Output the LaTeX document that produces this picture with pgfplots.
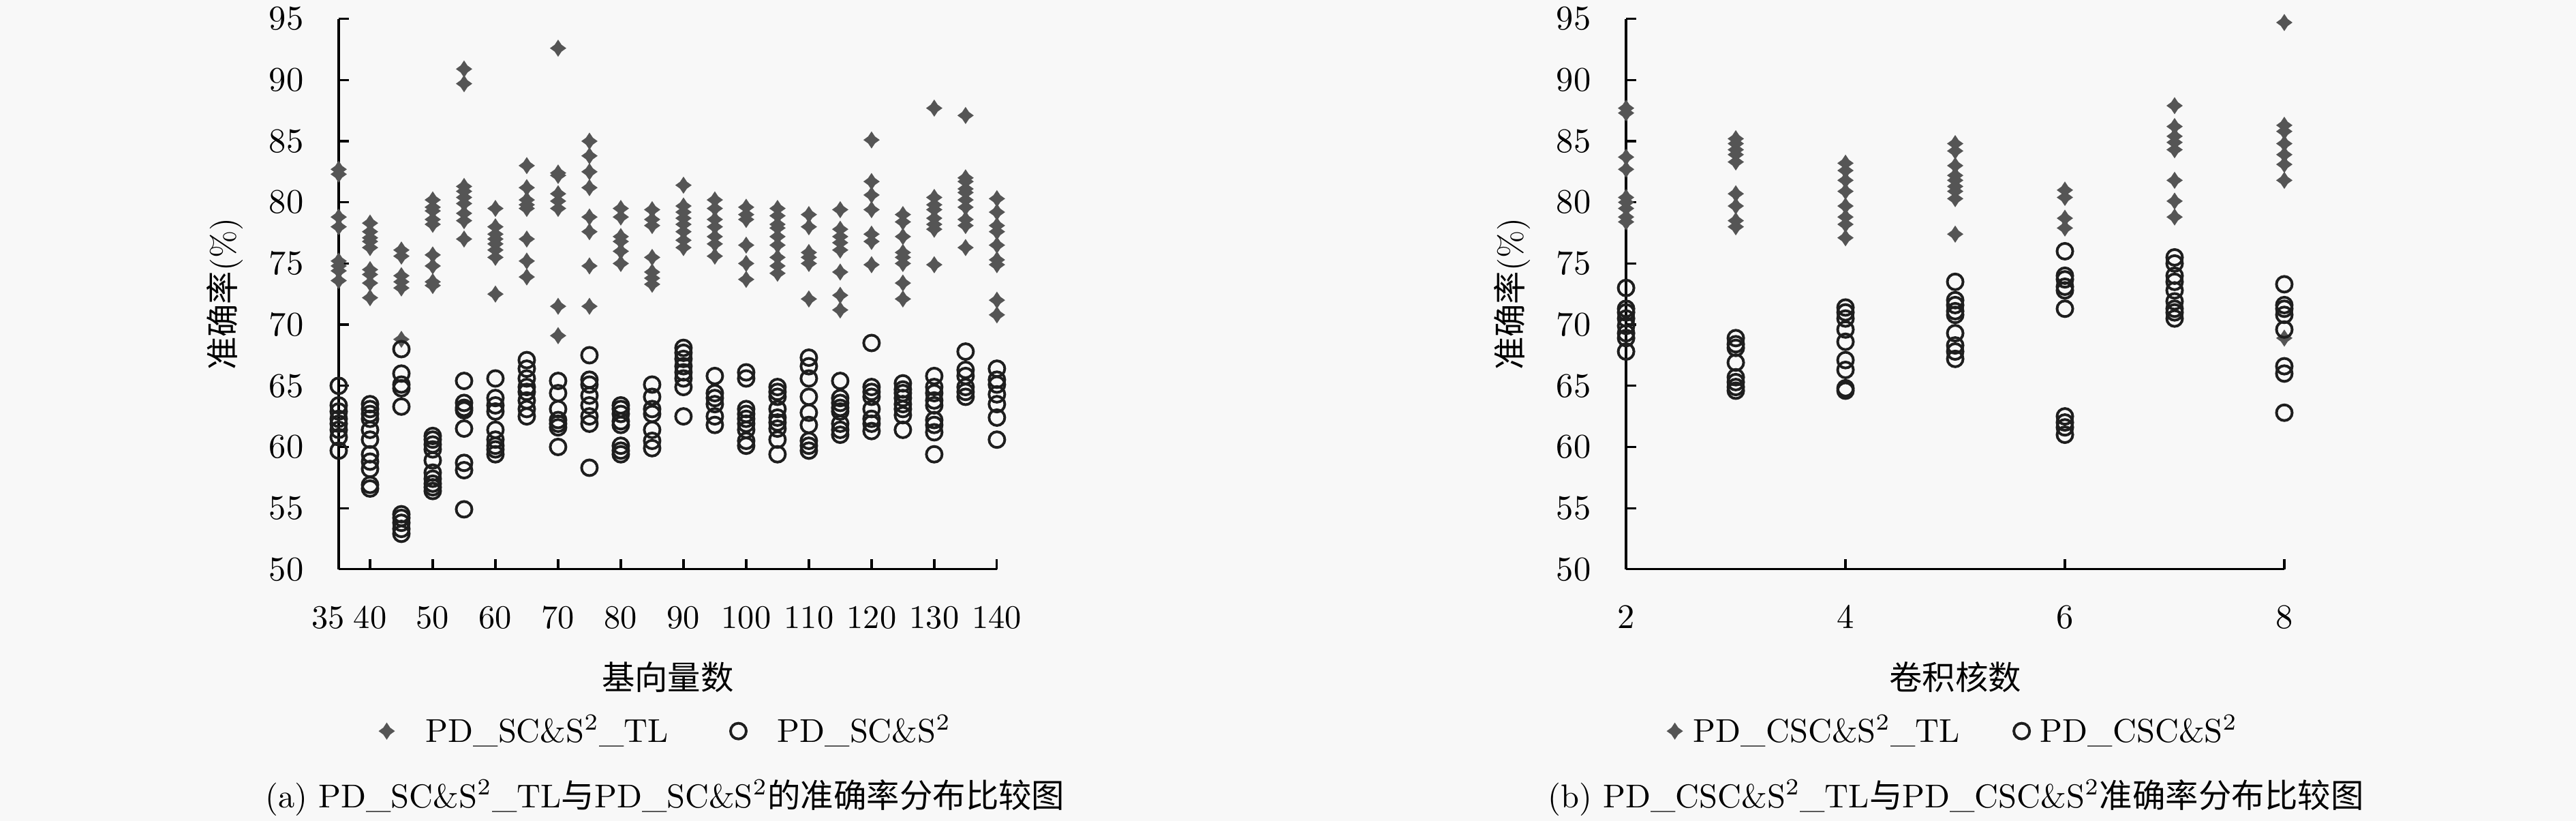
\documentclass[border=0pt]{standalone}
\usepackage{fontspec}
\usepackage{pgfplots}
\pgfplotsset{compat=1.18}
\newfontfamily\cjk{Noto Sans CJK SC}
\definecolor{bg}{HTML}{F8F8F8}
\definecolor{stargray}{HTML}{555555}
\definecolor{circblack}{HTML}{1E1E1E}
\pgfdeclareplotmark{sparkle}{%
  \pgfpathmoveto{\pgfqpoint{0pt}{1.05\pgfplotmarksize}}%
  \pgfpathlineto{\pgfqpoint{0.42\pgfplotmarksize}{0.42\pgfplotmarksize}}%
  \pgfpathlineto{\pgfqpoint{1\pgfplotmarksize}{0pt}}%
  \pgfpathlineto{\pgfqpoint{0.42\pgfplotmarksize}{-0.42\pgfplotmarksize}}%
  \pgfpathlineto{\pgfqpoint{0pt}{-1.05\pgfplotmarksize}}%
  \pgfpathlineto{\pgfqpoint{-0.42\pgfplotmarksize}{-0.42\pgfplotmarksize}}%
  \pgfpathlineto{\pgfqpoint{-1\pgfplotmarksize}{0pt}}%
  \pgfpathlineto{\pgfqpoint{-0.42\pgfplotmarksize}{0.42\pgfplotmarksize}}%
  \pgfpathclose\pgfusepathqfill}
\pgfplotsset{
  myaxis/.style={
    scale only axis, width=209.4pt, height=175pt,
    axis lines=left, axis line style={-, line width=0.7pt, black},
    tick align=inside, major tick length=3.3pt,
    every tick/.style={black, line width=0.7pt},
    ymin=50, ymax=95, ytick={50,55,...,95},
    yticklabel style={xshift=-7.5pt},
    xticklabel style={yshift=-8pt},
    every axis y label/.style={at={(axis description cs:-0.173,0.5)}, rotate=90, anchor=center},
    every axis x label/.style={at={(axis description cs:0.5,-0.196)}, anchor=center},
    ylabel={{\cjk 准确率}(\%)},
    clip=false,
    legend columns=2,
    legend style={at={(axis description cs:0.5,-0.294)}, anchor=center, draw=none, fill=none, inner sep=0pt},
  },
  tlstyle/.style={only marks, mark=sparkle, mark size=2.6pt, stargray, mark options={fill=stargray, draw=none}},
  cstyle/.style={only marks, mark=o, mark size=2.5pt, circblack, mark options={line width=0.85pt}},
}
\begin{document}
\fontsize{10.5}{12.6}\selectfont
\begin{tikzpicture}
\fill[bg] (0,0) rectangle (819.5pt,261pt);
\path[use as bounding box] (0,0) rectangle (819.5pt,261pt);
% ---------------- (a) ----------------
\begin{axis}[myaxis, at={(107.75pt,80pt)}, anchor=south west,
  xmin=35, xmax=140, xtick={35,40,50,60,70,80,90,100,110,120,130,140},
  xticklabels={\hspace*{-6.6pt}35,40,50,60,70,80,90,100,110,120,130,140},
  xlabel={\cjk 基向量数},
  legend image code/.code={\path[draw=none,fill=none] (-2.5pt,0pt) -- (10.4pt,0pt); \draw[#1] plot coordinates {(0pt,0pt)};},
  legend style={/tikz/every even column/.append style={column sep=17.8pt}},
]
\addplot[tlstyle] coordinates {
(35,82.7)(35,82.3)(35,78.8)(35,78.0)(35,75.2)(35,74.8)(35,74.4)(35,73.6)
(40,78.3)(40,77.6)(40,77.1)(40,76.8)(40,76.3)(40,74.5)(40,74.1)(40,73.4)(40,72.2)
(45,76.1)(45,75.6)(45,74.0)(45,73.5)(45,73.0)(45,68.8)
(50,80.2)(50,79.6)(50,79.3)(50,78.6)(50,78.2)(50,75.7)(50,74.8)(50,73.5)(50,73.2)
(55,90.9)(55,89.7)(55,81.3)(55,80.9)(55,80.4)(55,79.9)(55,79.1)(55,78.5)(55,77.0)
(60,79.5)(60,78.0)(60,77.4)(60,77.0)(60,76.6)(60,76.1)(60,75.5)(60,72.5)
(65,83.0)(65,81.2)(65,80.2)(65,79.8)(65,79.5)(65,77.0)(65,75.2)(65,73.9)
(70,92.6)(70,82.4)(70,82.2)(70,80.7)(70,80.1)(70,79.5)(70,71.5)(70,69.1)
(75,85.0)(75,83.8)(75,82.5)(75,81.2)(75,78.8)(75,77.6)(75,74.8)(75,71.5)
(80,79.5)(80,78.8)(80,77.2)(80,76.8)(80,76.0)(80,75.0)
(85,79.4)(85,78.6)(85,78.1)(85,75.5)(85,74.3)(85,73.8)(85,73.3)
(90,81.4)(90,79.7)(90,79.2)(90,78.7)(90,78.2)(90,77.6)(90,76.9)(90,76.3)
(95,80.2)(95,79.5)(95,78.6)(95,78.0)(95,77.2)(95,76.6)(95,75.6)
(100,79.6)(100,79.0)(100,78.6)(100,76.5)(100,75.0)(100,73.7)
(105,79.5)(105,78.9)(105,78.2)(105,77.9)(105,77.2)(105,76.5)(105,75.5)(105,74.8)(105,74.2)
(110,79.0)(110,78.0)(110,75.9)(110,75.5)(110,75.0)(110,72.1)
(115,79.4)(115,77.8)(115,77.2)(115,76.7)(115,76.1)(115,74.3)(115,72.4)(115,71.2)
(120,85.1)(120,81.7)(120,80.6)(120,79.4)(120,77.4)(120,76.8)(120,74.9)
(125,79.0)(125,78.4)(125,77.2)(125,75.9)(125,75.5)(125,75.0)(125,73.4)(125,72.1)
(130,87.7)(130,80.4)(130,79.8)(130,79.4)(130,78.7)(130,78.2)(130,77.8)(130,74.9)
(135,87.1)(135,82.0)(135,81.7)(135,81.1)(135,80.8)(135,80.2)(135,79.6)(135,78.6)(135,78.1)(135,76.3)
(140,80.3)(140,79.2)(140,78.1)(140,77.6)(140,76.5)(140,75.3)(140,74.9)(140,72.0)(140,70.8)
};
\addlegendentry{PD\_SC\&S\textsuperscript{2}\_TL}
\addplot[cstyle] coordinates {
(35,65.0)(35,63.4)(35,62.9)(35,62.3)(35,61.9)(35,61.4)(35,60.8)(35,59.7)
(40,63.5)(40,63.1)(40,62.7)(40,62.3)(40,61.4)(40,60.6)(40,59.4)(40,58.8)(40,58.2)(40,56.9)(40,56.6)
(45,68.0)(45,66.0)(45,65.1)(45,64.8)(45,63.3)(45,54.5)(45,54.2)(45,53.8)(45,53.3)(45,52.9)
(50,60.9)(50,60.6)(50,60.2)(50,59.8)(50,58.9)(50,57.9)(50,57.4)(50,57.0)(50,56.7)(50,56.4)
(55,65.4)(55,63.6)(55,63.2)(55,63.0)(55,61.5)(55,58.7)(55,58.1)(55,54.9)
(60,65.6)(60,64.0)(60,63.4)(60,62.9)(60,61.4)(60,60.6)(60,60.1)(60,59.8)(60,59.4)
(65,67.1)(65,66.4)(65,65.6)(65,64.9)(65,64.5)(65,63.8)(65,63.1)(65,62.5)
(70,65.4)(70,64.4)(70,63.1)(70,62.2)(70,61.9)(70,61.6)(70,60.0)
(75,67.5)(75,65.5)(75,65.1)(75,64.2)(75,63.4)(75,62.5)(75,61.9)(75,58.3)
(80,63.4)(80,63.1)(80,62.7)(80,62.1)(80,61.8)(80,60.1)(80,59.7)(80,59.4)
(85,65.1)(85,64.1)(85,63.1)(85,62.7)(85,61.4)(85,60.5)(85,59.9)
(90,68.1)(90,67.7)(90,67.2)(90,66.6)(90,66.1)(90,65.6)(90,64.9)(90,62.5)
(95,65.8)(95,64.4)(95,64.0)(95,63.5)(95,62.5)(95,61.8)
(100,66.1)(100,65.6)(100,63.1)(100,62.7)(100,62.3)(100,61.9)(100,61.4)(100,60.5)(100,60.1)
(105,64.9)(105,64.5)(105,64.1)(105,63.1)(105,62.4)(105,62.0)(105,61.5)(105,60.6)(105,59.4)
(110,67.3)(110,66.6)(110,65.6)(110,64.1)(110,62.8)(110,61.8)(110,60.5)(110,60.1)(110,59.7)
(115,65.4)(115,64.0)(115,63.6)(115,63.2)(115,62.9)(115,61.9)(115,61.4)(115,61.0)
(120,68.5)(120,64.9)(120,64.5)(120,64.1)(120,63.1)(120,62.3)(120,61.9)(120,61.3)
(125,65.2)(125,64.7)(125,64.4)(125,64.0)(125,63.5)(125,63.1)(125,62.6)(125,61.4)
(130,65.8)(130,64.9)(130,64.4)(130,63.8)(130,63.4)(130,62.2)(130,61.8)(130,61.2)(130,59.4)
(135,67.8)(135,66.3)(135,65.8)(135,64.9)(135,64.5)(135,64.1)
(140,66.4)(140,65.5)(140,65.1)(140,64.3)(140,63.5)(140,62.4)(140,60.6)
};
\addlegendentry{PD\_SC\&S\textsuperscript{2}}
\end{axis}
% ---------------- (b) ----------------
\begin{axis}[myaxis, at={(517.3pt,80pt)}, anchor=south west,
  xmin=2, xmax=8, xtick={2,4,6,8},
  xlabel={\cjk 卷积核数},
  legend image code/.code={\path[draw=none,fill=none] (-2.5pt,0pt) -- (3.9pt,0pt); \draw[#1] plot coordinates {(0pt,0pt)};},
  legend style={/tikz/every even column/.append style={column sep=15.2pt}},
]
\addplot[tlstyle] coordinates {
(2,87.7)(2,87.3)(2,83.7)(2,82.7)(2,80.4)(2,80.0)(2,79.5)(2,78.8)(2,78.4)
(3,85.2)(3,84.8)(3,84.3)(3,83.9)(3,83.3)(3,80.7)(3,79.7)(3,78.5)(3,78.0)
(4,83.2)(4,82.6)(4,81.8)(4,80.9)(4,79.7)(4,78.8)(4,78.2)(4,77.1)
(5,84.8)(5,84.2)(5,83.0)(5,82.2)(5,81.8)(5,81.3)(5,80.9)(5,80.3)(5,77.4)
(6,81.0)(6,80.4)(6,78.7)(6,77.9)
(7,87.9)(7,86.2)(7,85.4)(7,84.9)(7,84.3)(7,81.8)(7,80.1)(7,78.8)
(8,94.7)(8,86.3)(8,85.8)(8,84.8)(8,83.9)(8,83.1)(8,81.8)(8,68.9)
};
\addlegendentry{PD\_CSC\&S\textsuperscript{2}\_TL}
\addplot[cstyle] coordinates {
(2,73.0)(2,71.3)(2,71.0)(2,70.5)(2,69.9)(2,69.3)(2,68.9)(2,67.8)
(3,68.9)(3,68.4)(3,68.1)(3,66.9)(3,65.7)(3,65.3)(3,64.9)(3,64.6)
(4,71.4)(4,71.0)(4,70.5)(4,69.6)(4,68.6)(4,67.1)(4,66.3)(4,64.8)(4,64.6)
(5,73.5)(5,72.0)(5,71.6)(5,71.1)(5,70.8)(5,69.3)(5,68.3)(5,67.8)(5,67.2)
(6,76.0)(6,74.0)(6,73.7)(6,73.1)(6,72.8)(6,71.3)(6,62.5)(6,62.0)(6,61.6)(6,61.0)
(7,75.5)(7,75.0)(7,74.0)(7,73.5)(7,72.8)(7,71.9)(7,71.3)(7,71.0)(7,70.5)
(8,73.3)(8,71.6)(8,71.3)(8,70.8)(8,69.6)(8,66.6)(8,66.0)(8,62.8)
};
\addlegendentry{PD\_CSC\&S\textsuperscript{2}}
\end{axis}
\node[anchor=center] at (211.6pt,7.4pt) {(a) PD\_SC\&S\textsuperscript{2}\_TL{\cjk 与}PD\_SC\&S\textsuperscript{2}{\cjk 的准确率分布比较图}};
\node[anchor=center] at (622.2pt,7.4pt) {(b) PD\_CSC\&S\textsuperscript{2}\_TL{\cjk 与}PD\_CSC\&S\textsuperscript{2}{\cjk 准确率分布比较图}};
\end{tikzpicture}
\end{document}
